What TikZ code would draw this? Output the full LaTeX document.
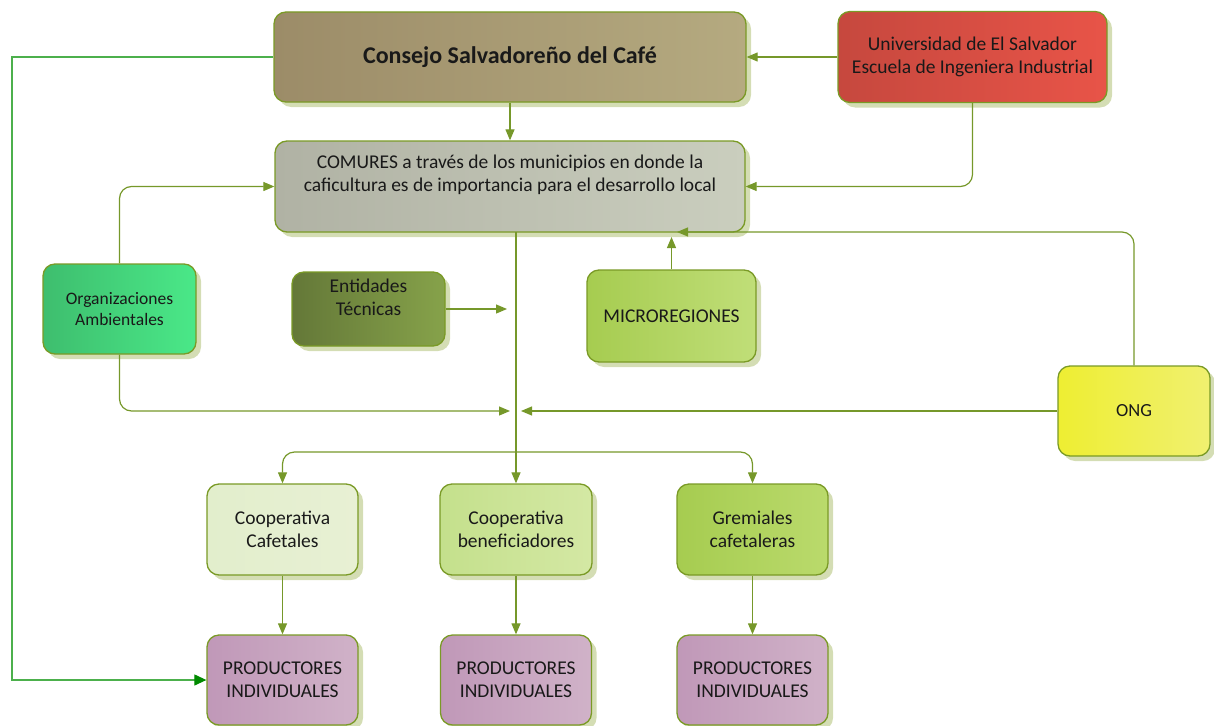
\documentclass[tikz,border=0pt]{standalone}
\usepackage{fontspec}
\setmainfont{Carlito}
\usetikzlibrary{arrows.meta,shadows}

\definecolor{linegreen}{HTML}{76982A}
\definecolor{edgegreen}{HTML}{7A9A26}
\definecolor{shadowgreen}{HTML}{D4DDB4}
\definecolor{leftline}{HTML}{4CB04C}
\definecolor{leftarrow}{HTML}{008A00}

\tikzset{
  box/.style={draw=edgegreen, line width=1.3pt, rounded corners=12pt,
    align=center, inner sep=2pt, text=black!90,
    font=\fontsize{19.5}{23}\selectfont,
    general shadow={shadow xshift=5pt, shadow yshift=-5pt, fill=shadowgreen}},
  boxtext/.style={align=center, inner sep=0pt, text=black!90,
    font=\fontsize{19.5}{23}\selectfont},
  conn/.style={draw=linegreen, line width=1.2pt,
    -{Triangle[length=11pt,width=9pt]}},
  elbow/.style={conn, rounded corners=12pt},
  longconn/.style={draw=leftline, line width=1.2pt,
    -{Triangle[length=12pt,width=11pt,color=leftarrow]}}
}

\begin{document}
\begin{tikzpicture}[x=1pt,y=-1pt]
\useasboundingbox (0,0) rectangle (1214,725);

% top row
\node[box, minimum width=472, minimum height=90,
  left color={rgb,255:red,156;green,140;blue,104},
  right color={rgb,255:red,181;green,170;blue,128},
  font=\fontsize{24}{23}\selectfont\bfseries]
  (consejo) at (510,57) {Consejo Salvadoreño del Café};

\node[box, minimum width=269, minimum height=91,
  left color={rgb,255:red,198;green,72;blue,62},
  right color={rgb,255:red,232;green,84;blue,72}]
  (univ) at (972.5,57) {Universidad de El Salvador\\Escuela de Ingeniera Industrial};

% COMURES
\node[box, minimum width=470, minimum height=91,
  left color={rgb,255:red,176;green,178;blue,164},
  right color={rgb,255:red,202;green,206;blue,190}]
  (comures) at (510,186.5) {};
\node[boxtext] (comurestext) at (510,175)
  {COMURES a través de los municipios en donde la\\caficultura es de importancia para el desarrollo local};

% middle row
\node[box, minimum width=153, minimum height=90,
  left color={rgb,255:red,62;green,190;blue,110},
  right color={rgb,255:red,74;green,232;blue,136},
  font=\fontsize{17.5}{21}\selectfont]
  (org) at (119.5,309) {Organizaciones\\Ambientales};

\node[box, minimum width=153, minimum height=74,
  left color={rgb,255:red,100;green,120;blue,56},
  right color={rgb,255:red,134;green,162;blue,74}]
  (ent) at (368.5,309) {};
\node[boxtext] (enttext) at (368.5,297.5) {Entidades\\Técnicas};

\node[box, minimum width=169, minimum height=92,
  left color={rgb,255:red,166;green,204;blue,80},
  right color={rgb,255:red,192;green,222;blue,120}]
  (micro) at (671.5,316) {MICROREGIONES};

\node[box, minimum width=152, minimum height=90,
  left color={rgb,255:red,238;green,238;blue,50},
  right color={rgb,255:red,240;green,240;blue,112},
  font=\fontsize{18.5}{21}\selectfont]
  (ong) at (1134,411) {ONG};

% cooperatives and guilds
\node[box, minimum width=151, minimum height=91,
  left color={rgb,255:red,226;green,238;blue,204},
  right color={rgb,255:red,232;green,240;blue,212}]
  (coopc) at (282.5,529.5) {Cooperativa\\Cafetales};
\node[box, minimum width=152, minimum height=91,
  left color={rgb,255:red,196;green,224;blue,140},
  right color={rgb,255:red,212;green,232;blue,164}]
  (coopb) at (516,529.5) {Cooperativa\\beneficiadores};
\node[box, minimum width=151, minimum height=91,
  left color={rgb,255:red,166;green,204;blue,80},
  right color={rgb,255:red,186;green,218;blue,108}]
  (grem) at (752.5,529.5) {Gremiales\\cafetaleras};

% producers
\foreach \n/\cx in {prodA/282.5, prodB/516, prodC/752.5}{
  \node[box, minimum width=151, minimum height=90,
    left color={rgb,255:red,192;green,152;blue,184},
    right color={rgb,255:red,208;green,178;blue,200}]
    (\n) at (\cx,680) {PRODUCTORES\\INDIVIDUALES};
}

% junction points
\coordinate (leftcorner) at (12,57);
\coordinate (ongin) at (677,232);
\coordinate (microin) at (671.5,237);
\coordinate (entin) at (507,309);
\coordinate (trunktop) at (516,232);
\coordinate (joinL) at (510,411);
\coordinate (joinR) at (521,411);
\coordinate (branch) at (516,452);

% connectors
\draw[longconn] (consejo.west) -- (leftcorner) |- (prodA.west);
\draw[conn] (univ.west) -- (consejo.east);
\draw[conn] (consejo.south) -- (comures.north);
\draw[elbow] (univ.south) |- (comures.east);
\draw[elbow] (org.north) |- (comures.west);
\draw[elbow] (org.south) |- (joinL);
\draw[conn] (ong.west) -- (joinR);
\draw[elbow] (ong.north) |- (ongin);
\draw[conn] (micro.north) -- (microin);
\draw[conn] (ent.east) -- (entin);
\draw[conn] (trunktop) -- (coopb.north);
\draw[elbow] (branch) -| (coopc.north);
\draw[elbow] (branch) -| (grem.north);
\draw[conn] (coopc.south) -- (prodA.north);
\draw[conn] (coopb.south) -- (prodB.north);
\draw[conn] (grem.south) -- (prodC.north);
\end{tikzpicture}
\end{document}
